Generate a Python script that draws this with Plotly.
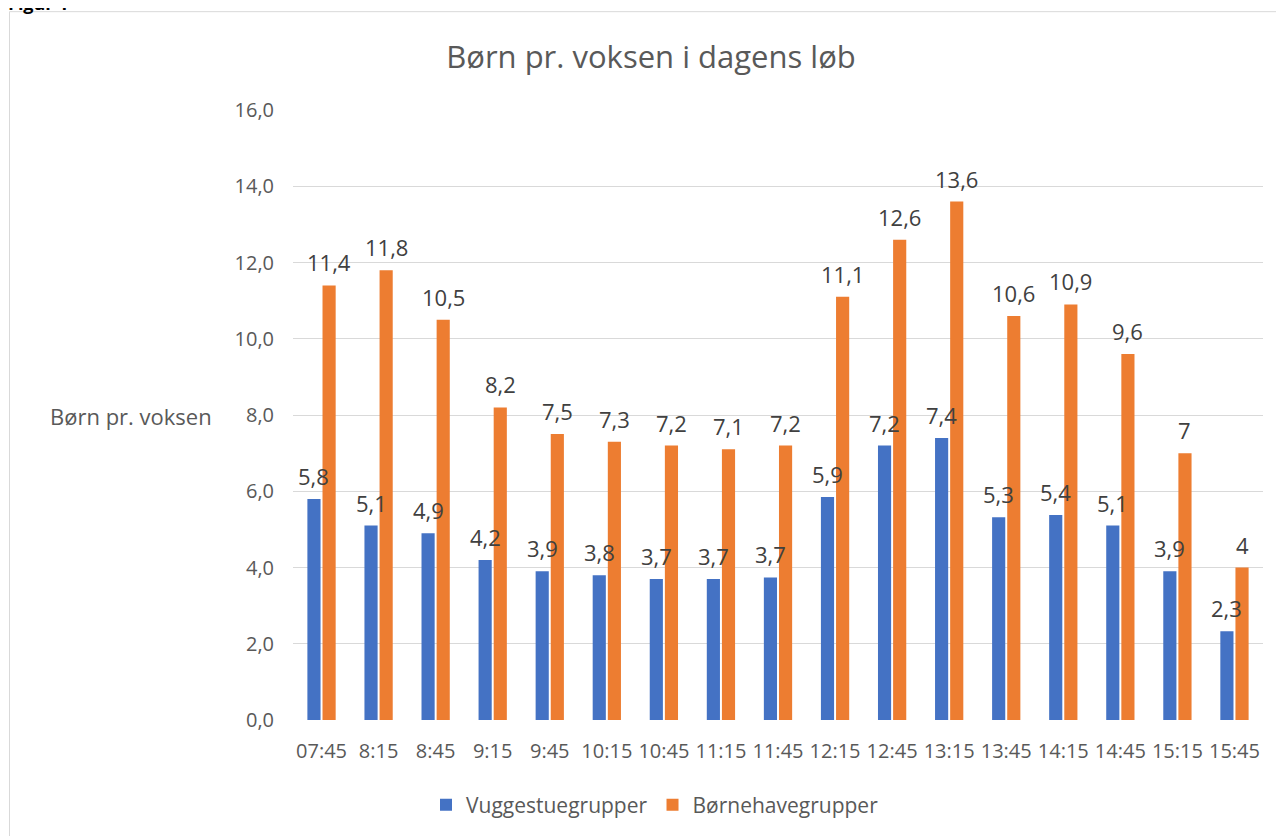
import plotly.graph_objects as go

categories = ["07:45", "8:15", "8:45", "9:15", "9:45", "10:15", "10:45", "11:15", "11:45",
              "12:15", "12:45", "13:15", "13:45", "14:15", "14:45", "15:15", "15:45"]
vuggestue = [5.8, 5.1, 4.9, 4.2, 3.9, 3.8, 3.7, 3.7, 3.74, 5.85, 7.2, 7.4, 5.32, 5.38, 5.1, 3.9, 2.33]
vuggestue_labels = ["5,8", "5,1", "4,9", "4,2", "3,9", "3,8", "3,7", "3,7", "3,7", "5,9", "7,2", "7,4",
                    "5,3", "5,4", "5,1", "3,9", "2,3"]
boernehave = [11.4, 11.8, 10.5, 8.2, 7.5, 7.3, 7.2, 7.1, 7.2, 11.1, 12.6, 13.6, 10.6, 10.9, 9.6, 7, 4]
boernehave_labels = ["11,4", "11,8", "10,5", "8,2", "7,5", "7,3", "7,2", "7,1", "7,2", "11,1", "12,6",
                     "13,6", "10,6", "10,9", "9,6", "7", "4"]
y_ticks = [0, 2, 4, 6, 8, 10, 12, 14, 16]

FONT = "Open Sans"
OFF = 8  # page body margin
W, H = 1284 - OFF, 836 - OFF
PW, PH = 970, 611
L, T = 293 - OFF, 110 - OFF
R, B = W - L - PW, H - T - PH


def px(x):
    return (x - OFF - L) / PW


def py(y):
    return (H - B - (y - OFF)) / PH


fig = go.Figure()
fig.add_trace(go.Bar(x=categories, y=vuggestue, name="Vuggestuegrupper", marker_color="#4472C4",
                     marker_line_width=0, hoverinfo="x+y"))
fig.add_trace(go.Bar(x=categories, y=boernehave, name="Børnehavegrupper", marker_color="#ED7D31",
                     marker_line_width=0, hoverinfo="x+y"))

BARGAP, GROUPGAP = 0.47, 0.13
slot = PW / len(categories) * (1 - BARGAP) / 2
for series, labels, sign in ((vuggestue, vuggestue_labels, -1), (boernehave, boernehave_labels, 1)):
    for cat, val, lab in zip(categories, series, labels):
        fig.add_annotation(x=cat, y=val, text=lab, showarrow=False, xref="x", yref="y",
                           xanchor="center", yanchor="bottom", xshift=sign * slot / 2, yshift=6,
                           font=dict(size=22, color="#404040", family=FONT))

fig.update_layout(
    width=W, height=H,
    margin=dict(l=L, r=R, t=T, b=B),
    paper_bgcolor="white", plot_bgcolor="white",
    barmode="group", bargap=BARGAP, bargroupgap=GROUPGAP,
    font=dict(family=FONT, color="#595959", size=20),
    title=dict(text="Børn pr. voksen i dagens løb", x=(651 - OFF) / W, xanchor="center",
               y=1 - (57 - OFF) / H, yanchor="middle", xref="container", yref="container",
               font=dict(size=31, color="#595959", family=FONT)),
    showlegend=True,
    legend=dict(orientation="h", x=px(655), xanchor="center", y=py(805), yanchor="middle",
                font=dict(size=21, color="#595959", family=FONT), traceorder="normal"),
    xaxis=dict(showgrid=False, showline=False, tickfont=dict(size=20, color="#595959"),
               ticks="", ticklabelstandoff=17),
    yaxis=dict(range=[0, 16], tickvals=y_ticks, tickformat=".1f", showgrid=True,
               gridcolor="#d9d9d9", gridwidth=1.3, zeroline=False, showline=False,
               tickfont=dict(size=20, color="#595959"), ticks="", ticklabelstandoff=18),
    separators=",.",
)

fig.add_annotation(text="Børn pr. voksen", xref="paper", yref="paper", x=px(131), y=py(417),
                   showarrow=False, xanchor="center", yanchor="middle",
                   font=dict(size=22, color="#595959", family=FONT))
fig.add_annotation(text="<b>Figur 1</b>", xref="paper", yref="paper", x=px(6), y=py(17),
                   showarrow=False, xanchor="left", yanchor="bottom",
                   font=dict(size=18, color="#000000", family=FONT))
fig.add_shape(type="rect", xref="paper", yref="paper", x0=px(9.5), y0=py(850), x1=px(1300),
              y1=py(11.5), line=dict(color="#d9d9d9", width=1), fillcolor="rgba(0,0,0,0)",
              layer="below")

fig.write_html("out.html")
